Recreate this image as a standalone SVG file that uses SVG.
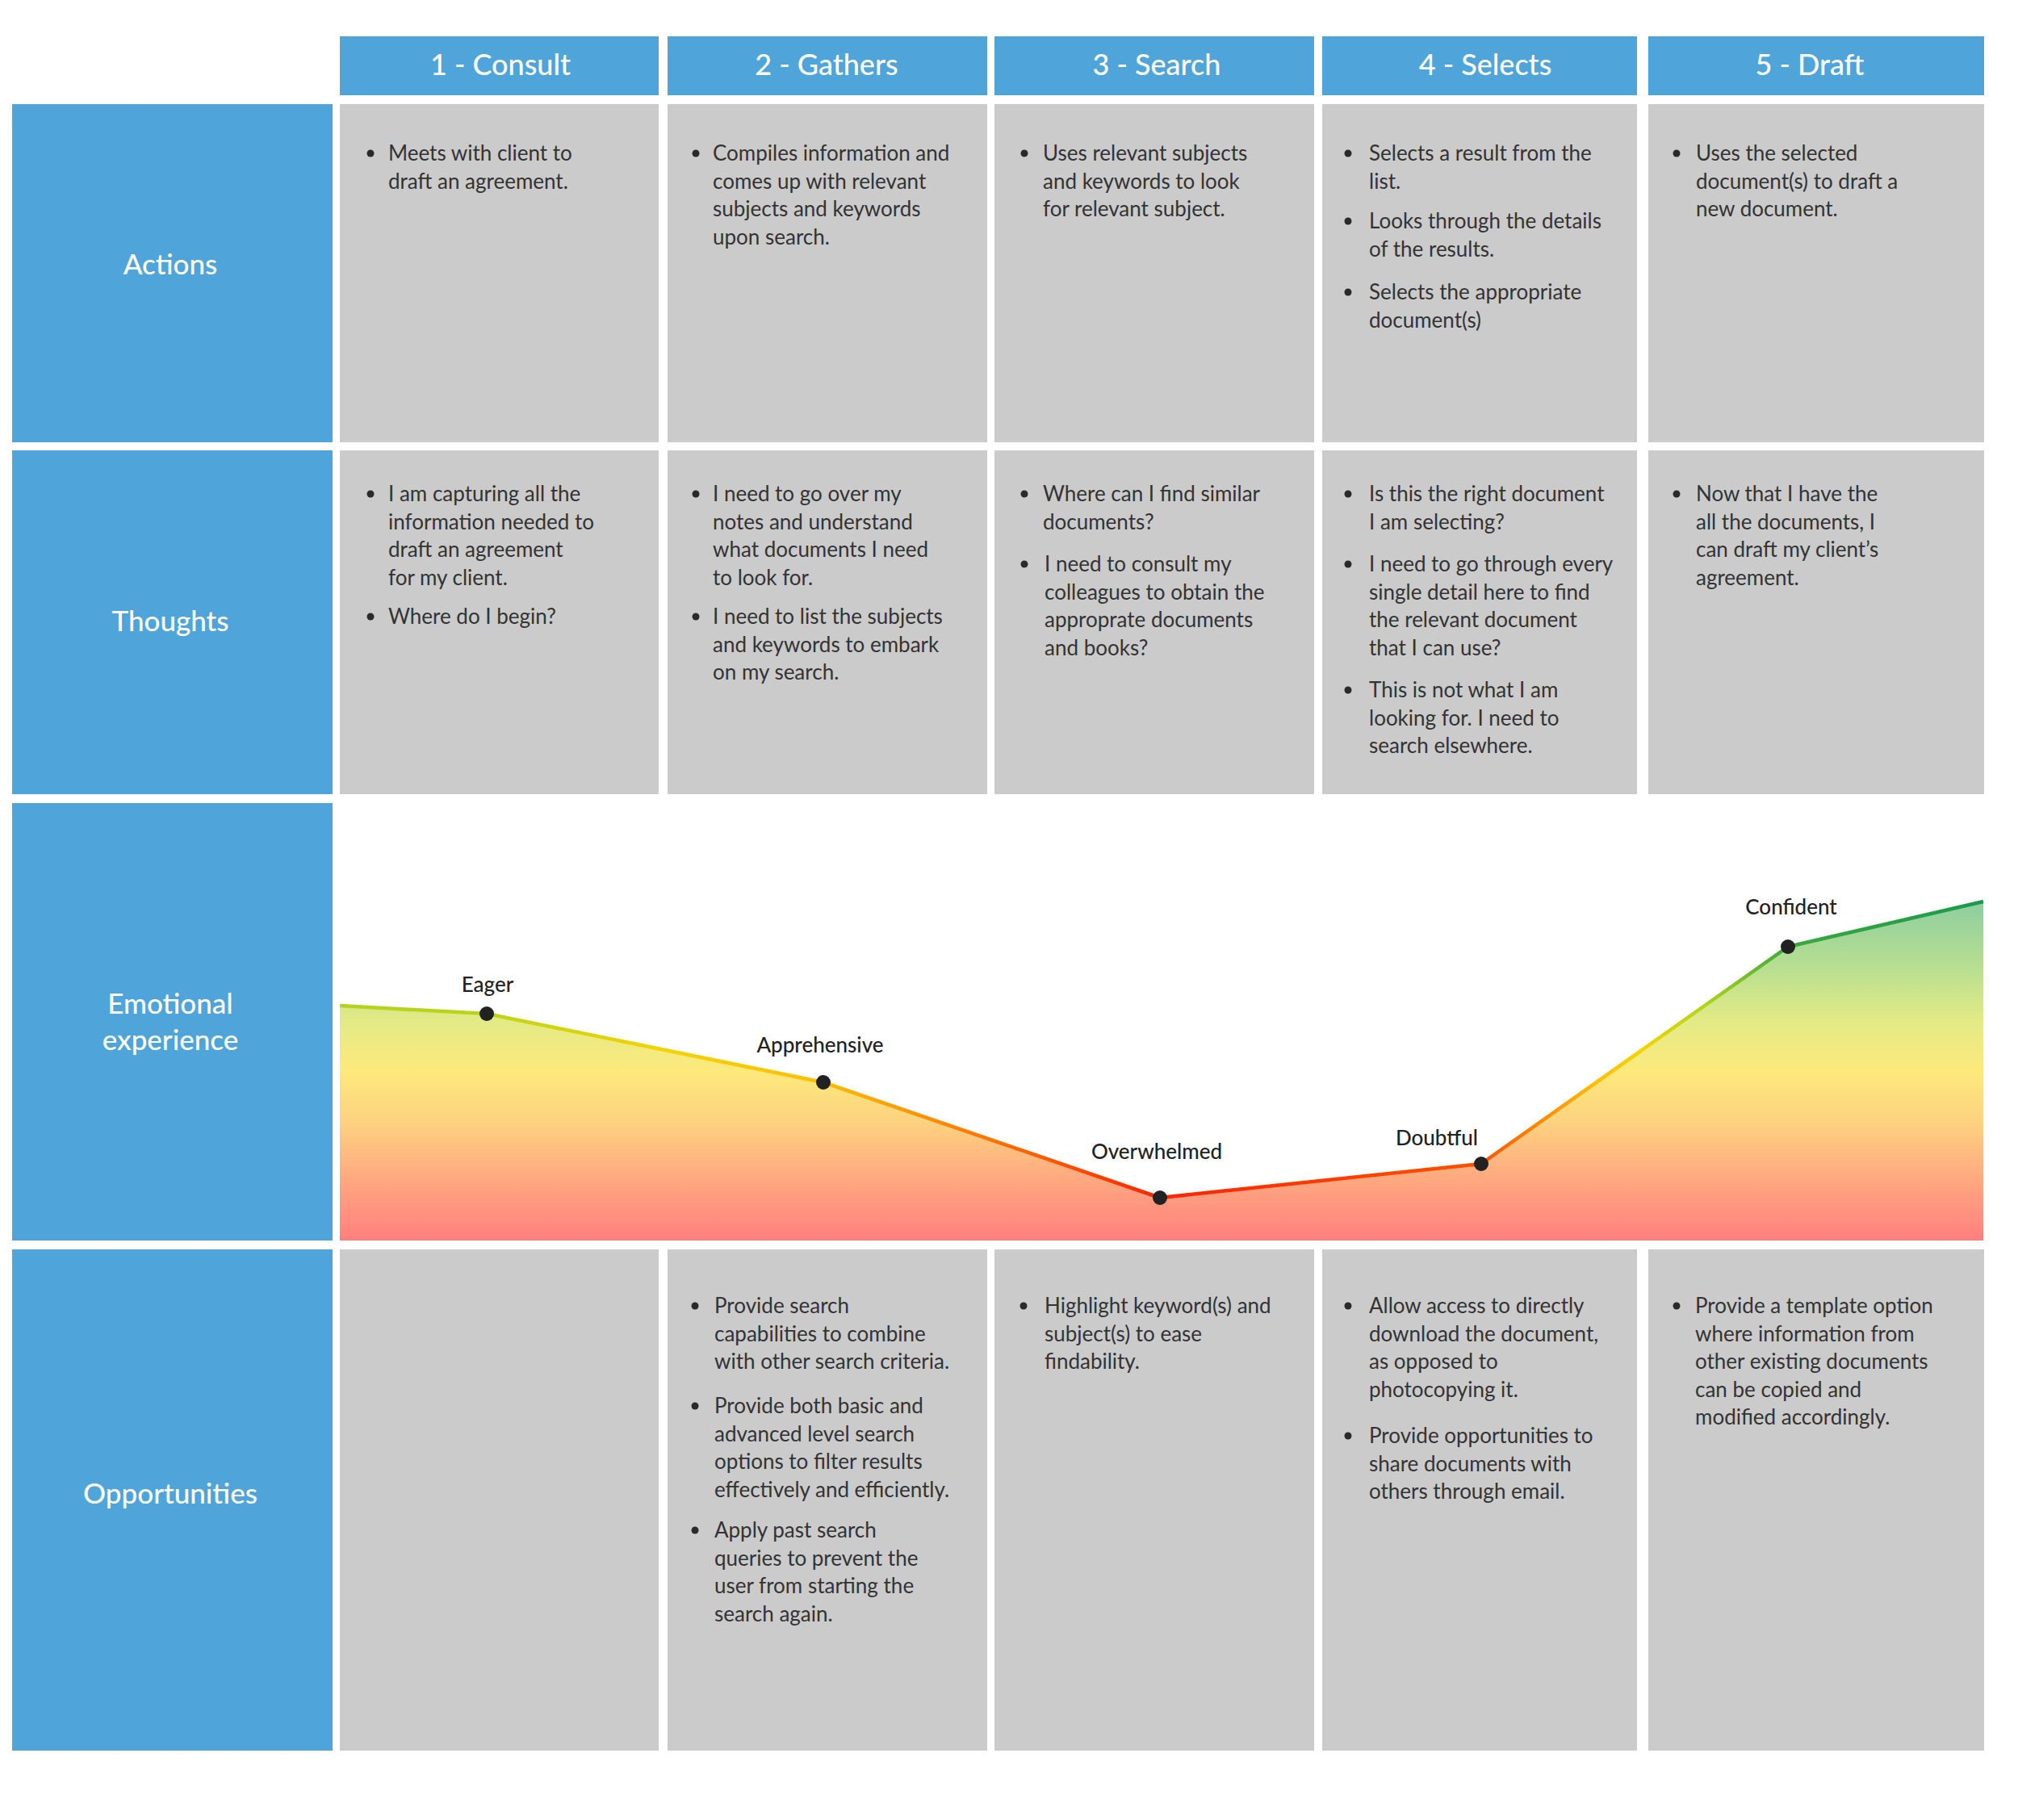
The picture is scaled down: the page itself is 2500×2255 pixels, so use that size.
<svg xmlns="http://www.w3.org/2000/svg" width="2500" height="2255" viewBox="0 0 2500 2255">
<style>
.hdr{fill:#4fa4da}
.lbl{fill:#4fa4da}
.cell{fill:#cbcbcb}
.ht{font-family:Lato,"Noto Sans",sans-serif;font-size:36px;font-weight:500;fill:#fff;text-anchor:middle}
.rt{font-family:Lato,"Noto Sans",sans-serif;font-size:35px;font-weight:500;fill:#fff;text-anchor:middle}
.bt{font-family:Lato,"Noto Sans",sans-serif;font-size:26px;fill:#333}
.el{font-family:Lato,"Noto Sans",sans-serif;font-size:26px;font-weight:500;fill:#222;text-anchor:middle}
.bul{fill:#2a2a2a}
.dot{fill:#222}
</style>
<defs>
<linearGradient id="fillG" gradientUnits="userSpaceOnUse" x1="0" y1="1117" x2="0" y2="1537">
<stop offset="0" stop-color="#8dcea0"/>
<stop offset="0.2" stop-color="#b9df90"/>
<stop offset="0.35" stop-color="#e2ea86"/>
<stop offset="0.5" stop-color="#fde97c"/>
<stop offset="0.65" stop-color="#fdd280"/>
<stop offset="0.82" stop-color="#fea880"/>
<stop offset="1" stop-color="#ff7f7f"/>
</linearGradient>
<linearGradient id="lineG" gradientUnits="userSpaceOnUse" x1="0" y1="1117" x2="0" y2="1484">
<stop offset="0" stop-color="#1a9a4c"/>
<stop offset="0.153" stop-color="#3aa83c"/>
<stop offset="0.35" stop-color="#b0d41c"/>
<stop offset="0.5" stop-color="#f2d400"/>
<stop offset="0.61" stop-color="#ffbe00"/>
<stop offset="0.77" stop-color="#ff8000"/>
<stop offset="0.886" stop-color="#ff5200"/>
<stop offset="1" stop-color="#ff2400"/>
</linearGradient>
</defs>
<rect x="0" y="0" width="2500" height="2255" fill="#fff"/>

<!-- Headers -->
<g id="header-1"><rect class="hdr" x="421" y="45" width="395" height="73"/><text class="ht" x="620" y="93">1 - Consult</text></g>
<g id="header-2"><rect class="hdr" x="827" y="45" width="396" height="73"/><text class="ht" x="1024" y="93">2 - Gathers</text></g>
<g id="header-3"><rect class="hdr" x="1232" y="45" width="396" height="73"/><text class="ht" x="1433" y="93">3 - Search</text></g>
<g id="header-4"><rect class="hdr" x="1638" y="45" width="390" height="73"/><text class="ht" x="1840" y="93">4 - Selects</text></g>
<g id="header-5"><rect class="hdr" x="2042" y="45" width="416" height="73"/><text class="ht" x="2242" y="93">5 - Draft</text></g>

<!-- Row labels -->
<g id="label-actions"><rect class="lbl" x="15" y="129" width="397" height="419"/><text class="rt" x="211" y="340">Actions</text></g>
<g id="label-thoughts"><rect class="lbl" x="15" y="558" width="397" height="426"/><text class="rt" x="211" y="782">Thoughts</text></g>
<g id="label-emotional"><rect class="lbl" x="15" y="995" width="397" height="542"/><text class="rt" x="211" y="1256">Emotional</text><text class="rt" x="211" y="1301">experience</text></g>
<g id="label-opportunities"><rect class="lbl" x="15" y="1548" width="397" height="621"/><text class="rt" x="211" y="1863">Opportunities</text></g>

<!-- Actions row -->
<g id="actions-1"><rect class="cell" x="421" y="129" width="395" height="419"/>
<circle class="bul" cx="459" cy="190" r="4.5"/>
<text class="bt" x="481" y="199">Meets with client to</text>
<text class="bt" x="481" y="233.5">draft an agreement.</text></g>
<g id="actions-2"><rect class="cell" x="827" y="129" width="396" height="419"/>
<circle class="bul" cx="862" cy="190" r="4.5"/>
<text class="bt" x="883" y="199">Compiles information and</text>
<text class="bt" x="883" y="233.5">comes up with relevant</text>
<text class="bt" x="883" y="268">subjects and keywords</text>
<text class="bt" x="883" y="302.5">upon search.</text></g>
<g id="actions-3"><rect class="cell" x="1232" y="129" width="396" height="419"/>
<circle class="bul" cx="1269" cy="190" r="4.5"/>
<text class="bt" x="1292" y="199">Uses relevant subjects</text>
<text class="bt" x="1292" y="233.5">and keywords to look</text>
<text class="bt" x="1292" y="268">for relevant subject.</text></g>
<g id="actions-4"><rect class="cell" x="1638" y="129" width="390" height="419"/>
<circle class="bul" cx="1670" cy="190" r="4.5"/>
<text class="bt" x="1696" y="199">Selects a result from the</text>
<text class="bt" x="1696" y="233.5">list.</text>
<circle class="bul" cx="1670" cy="274" r="4.5"/>
<text class="bt" x="1696" y="283">Looks through the details</text>
<text class="bt" x="1696" y="317.5">of the results.</text>
<circle class="bul" cx="1670" cy="362" r="4.5"/>
<text class="bt" x="1696" y="371">Selects the appropriate</text>
<text class="bt" x="1696" y="405.5">document(s)</text></g>
<g id="actions-5"><rect class="cell" x="2042" y="129" width="416" height="419"/>
<circle class="bul" cx="2077" cy="190" r="4.5"/>
<text class="bt" x="2101" y="199">Uses the selected</text>
<text class="bt" x="2101" y="233.5">document(s) to draft a</text>
<text class="bt" x="2101" y="268">new document.</text></g>

<!-- Thoughts row -->
<g id="thoughts-1"><rect class="cell" x="421" y="558" width="395" height="426"/>
<circle class="bul" cx="459" cy="612" r="4.5"/>
<text class="bt" x="481" y="621">I am capturing all the</text>
<text class="bt" x="481" y="655.5">information needed to</text>
<text class="bt" x="481" y="690">draft an agreement</text>
<text class="bt" x="481" y="724.5">for my client.</text>
<circle class="bul" cx="459" cy="764" r="4.5"/>
<text class="bt" x="481" y="773">Where do I begin?</text></g>
<g id="thoughts-2"><rect class="cell" x="827" y="558" width="396" height="426"/>
<circle class="bul" cx="862" cy="612" r="4.5"/>
<text class="bt" x="883" y="621">I need to go over my</text>
<text class="bt" x="883" y="655.5">notes and understand</text>
<text class="bt" x="883" y="690">what documents I need</text>
<text class="bt" x="883" y="724.5">to look for.</text>
<circle class="bul" cx="862" cy="764" r="4.5"/>
<text class="bt" x="883" y="773">I need to list the subjects</text>
<text class="bt" x="883" y="807.5">and keywords to embark</text>
<text class="bt" x="883" y="842">on my search.</text></g>
<g id="thoughts-3"><rect class="cell" x="1232" y="558" width="396" height="426"/>
<circle class="bul" cx="1269" cy="612" r="4.5"/>
<text class="bt" x="1292" y="621">Where can I find similar</text>
<text class="bt" x="1292" y="655.5">documents?</text>
<circle class="bul" cx="1269" cy="699" r="4.5"/>
<text class="bt" x="1294" y="708">I need to consult my</text>
<text class="bt" x="1294" y="742.5">colleagues to obtain the</text>
<text class="bt" x="1294" y="777">approprate documents</text>
<text class="bt" x="1294" y="811.5">and books?</text></g>
<g id="thoughts-4"><rect class="cell" x="1638" y="558" width="390" height="426"/>
<circle class="bul" cx="1670" cy="612" r="4.5"/>
<text class="bt" x="1696" y="621">Is this the right document</text>
<text class="bt" x="1696" y="655.5">I am selecting?</text>
<circle class="bul" cx="1670" cy="699" r="4.5"/>
<text class="bt" x="1696" y="708">I need to go through every</text>
<text class="bt" x="1696" y="742.5">single detail here to find</text>
<text class="bt" x="1696" y="777">the relevant document</text>
<text class="bt" x="1696" y="811.5">that I can use?</text>
<circle class="bul" cx="1670" cy="855" r="4.5"/>
<text class="bt" x="1696" y="864">This is not what I am</text>
<text class="bt" x="1696" y="898.5">looking for. I need to</text>
<text class="bt" x="1696" y="933">search elsewhere.</text></g>
<g id="thoughts-5"><rect class="cell" x="2042" y="558" width="416" height="426"/>
<circle class="bul" cx="2077" cy="612" r="4.5"/>
<text class="bt" x="2101" y="621">Now that I have the</text>
<text class="bt" x="2101" y="655.5">all the documents, I</text>
<text class="bt" x="2101" y="690">can draft my client’s</text>
<text class="bt" x="2101" y="724.5">agreement.</text></g>

<!-- Emotional experience chart -->
<g id="emotion-chart">
<path d="M421,1246 L603,1256 L1020,1341 L1437,1484 L1835,1442 L2215,1173 L2457,1117 L2457,1537 L421,1537 Z" fill="url(#fillG)"/>
</g>
<g id="connectors">
<polyline points="421,1246 603,1256 1020,1341 1437,1484 1835,1442 2215,1173 2457,1117" fill="none" stroke="url(#lineG)" stroke-width="4.5" stroke-linejoin="round"/>
</g>
<g id="emotion-eager"><circle class="dot" cx="603" cy="1256" r="9"/><text class="el" x="604" y="1229">Eager</text></g>
<g id="emotion-apprehensive"><circle class="dot" cx="1020" cy="1341" r="9"/><text class="el" x="1016" y="1304">Apprehensive</text></g>
<g id="emotion-overwhelmed"><circle class="dot" cx="1437" cy="1484" r="9"/><text class="el" x="1433" y="1436">Overwhelmed</text></g>
<g id="emotion-doubtful"><circle class="dot" cx="1835" cy="1442" r="9"/><text class="el" x="1780" y="1419">Doubtful</text></g>
<g id="emotion-confident"><circle class="dot" cx="2215" cy="1173" r="9"/><text class="el" x="2219" y="1133">Confident</text></g>

<!-- Opportunities row -->
<g id="opps-1"><rect class="cell" x="421" y="1548" width="395" height="621"/></g>
<g id="opps-2"><rect class="cell" x="827" y="1548" width="396" height="621"/>
<circle class="bul" cx="861" cy="1618" r="4.5"/>
<text class="bt" x="885" y="1627">Provide search</text>
<text class="bt" x="885" y="1661.5">capabilities to combine</text>
<text class="bt" x="885" y="1696">with other search criteria.</text>
<circle class="bul" cx="861" cy="1742" r="4.5"/>
<text class="bt" x="885" y="1751">Provide both basic and</text>
<text class="bt" x="885" y="1785.5">advanced level search</text>
<text class="bt" x="885" y="1820">options to filter results</text>
<text class="bt" x="885" y="1854.5">effectively and efficiently.</text>
<circle class="bul" cx="861" cy="1896" r="4.5"/>
<text class="bt" x="885" y="1905">Apply past search</text>
<text class="bt" x="885" y="1939.5">queries to prevent the</text>
<text class="bt" x="885" y="1974">user from starting the</text>
<text class="bt" x="885" y="2008.5">search again.</text></g>
<g id="opps-3"><rect class="cell" x="1232" y="1548" width="396" height="621"/>
<circle class="bul" cx="1268" cy="1618" r="4.5"/>
<text class="bt" x="1294" y="1627">Highlight keyword(s) and</text>
<text class="bt" x="1294" y="1661.5">subject(s) to ease</text>
<text class="bt" x="1294" y="1696">findability.</text></g>
<g id="opps-4"><rect class="cell" x="1638" y="1548" width="390" height="621"/>
<circle class="bul" cx="1670" cy="1618" r="4.5"/>
<text class="bt" x="1696" y="1627">Allow access to directly</text>
<text class="bt" x="1696" y="1661.5">download the document,</text>
<text class="bt" x="1696" y="1696">as opposed to</text>
<text class="bt" x="1696" y="1730.5">photocopying it.</text>
<circle class="bul" cx="1670" cy="1779" r="4.5"/>
<text class="bt" x="1696" y="1788">Provide opportunities to</text>
<text class="bt" x="1696" y="1822.5">share documents with</text>
<text class="bt" x="1696" y="1857">others through email.</text></g>
<g id="opps-5"><rect class="cell" x="2042" y="1548" width="416" height="621"/>
<circle class="bul" cx="2077" cy="1618" r="4.5"/>
<text class="bt" x="2100" y="1627">Provide a template option</text>
<text class="bt" x="2100" y="1661.5">where information from</text>
<text class="bt" x="2100" y="1696">other existing documents</text>
<text class="bt" x="2100" y="1730.5">can be copied and</text>
<text class="bt" x="2100" y="1765">modified accordingly.</text></g>
</svg>
